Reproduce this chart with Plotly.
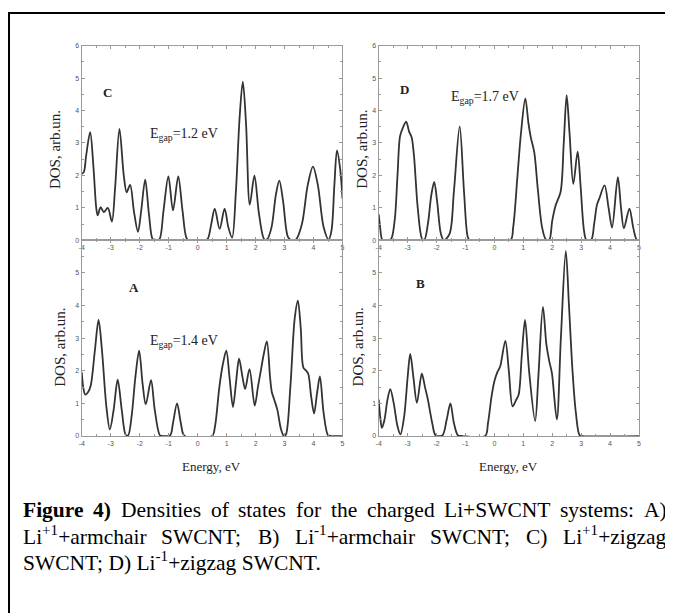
import plotly.graph_objects as go

# ---------------- data ----------------
E_C = [-4.00, -3.93, -3.85, -3.71, -3.60, -3.50, -3.45, -3.35, -3.24, -3.10, -2.96, -2.85, -2.70, -2.55, -2.45,
       -2.33, -2.20, -2.06, -1.95, -1.81, -1.68, -1.55, -1.45, -1.32, -1.18, -1.01, -0.85, -0.67, -0.52, -0.36,
       -0.20, 0.25, 0.35, 0.47, 0.59, 0.76, 0.93, 1.06, 1.19, 1.32, 1.45, 1.56, 1.67, 1.80, 1.96, 2.12, 2.30,
       2.40, 2.55, 2.70, 2.82, 2.95, 3.12, 3.25, 3.40, 3.60, 3.80, 3.98, 4.15, 4.35, 4.52, 4.62, 4.72, 4.81,
       4.92, 5.00]
DOS_C = [2.05, 2.10, 2.60, 3.33, 2.30, 1.00, 0.77, 1.02, 0.87, 1.00, 0.58, 1.60, 3.43, 2.00, 1.48,
         1.71, 0.90, 0.26, 0.90, 1.87, 0.80, 0.03, 0.00, 0.03, 0.90, 1.97, 0.92, 1.97, 0.90, 0.03,
         0.00, 0.00, 0.05, 0.50, 0.98, 0.35, 0.98, 0.40, 0.08, 1.50, 3.80, 4.89, 3.60, 1.10, 1.99, 0.80, 0.03,
         0.03, 0.40, 1.40, 1.84, 1.20, 0.10, 0.00, 0.03, 0.50, 1.70, 2.27, 1.70, 0.40, 0.02, 0.30, 1.70, 2.77,
         2.20, 1.28]

E_D = [-4.00, -3.95, -3.88, -3.75, -3.58, -3.45, -3.35, -3.26, -3.15, -3.05, -2.95, -2.86, -2.78, -2.65, -2.50,
       -2.42, -2.30, -2.18, -2.08, -1.98, -1.85, -1.75, -1.55, -1.40, -1.20, -1.05, -0.92, -0.85, 0.55, 0.65,
       0.80, 0.92, 1.07, 1.18, 1.26, 1.38, 1.50, 1.65, 1.78, 1.90, 2.00, 2.12, 2.29, 2.40, 2.50, 2.60, 2.73,
       2.88, 2.98, 3.10, 3.18, 3.35, 3.45, 3.55, 3.63, 3.81, 3.95, 4.07, 4.27, 4.38, 4.48, 4.67, 4.80, 4.92, 5.00]
DOS_D = [0.80, 0.40, 0.03, 0.00, 0.03, 0.60, 2.00, 3.22, 3.50, 3.66, 3.35, 3.17, 2.60, 1.00, 0.05,
         0.02, 0.50, 1.40, 1.80, 1.20, 0.20, 0.00, 0.20, 1.50, 3.51, 1.50, 0.10, 0.00, 0.00, 0.40,
         2.00, 3.30, 4.37, 3.60, 3.17, 2.71, 1.60, 0.40, 0.03, 0.02, 0.60, 1.08, 1.49, 3.00, 4.47, 3.30, 1.74,
         2.73, 1.70, 0.30, 0.02, 0.02, 0.50, 1.10, 1.29, 1.69, 1.00, 0.39, 1.95, 1.00, 0.37, 0.98, 0.40, 0.02, 0.00]

E_A = [-4.00, -3.95, -3.88, -3.78, -3.69, -3.55, -3.42, -3.30, -3.15, -3.03, -2.90, -2.76, -2.62, -2.48, -2.40,
       -2.28, -2.15, -2.02, -1.90, -1.79, -1.61, -1.48, -1.30, -1.20, -0.95, -0.85, -0.71, -0.58, -0.45, 0.50,
       0.60, 0.75, 0.87, 0.99, 1.10, 1.22, 1.32, 1.43, 1.55, 1.64, 1.79, 1.97, 2.08, 2.18, 2.28, 2.39, 2.50,
       2.56, 2.65, 2.75, 2.88, 2.98, 3.05, 3.20, 3.35, 3.46, 3.56, 3.65, 3.75, 3.82, 3.92, 4.02, 4.12, 4.22,
       4.35, 4.50, 4.60, 5.00]
DOS_A = [1.95, 1.50, 1.27, 1.35, 1.55, 2.60, 3.56, 2.60, 0.90, 0.20, 0.80, 1.73, 0.80, 0.03, 0.02,
         0.60, 1.80, 2.62, 1.60, 0.97, 1.71, 0.80, 0.02, 0.00, 0.02, 0.40, 1.00, 0.40, 0.00, 0.00,
         0.30, 1.50, 2.20, 2.62, 1.80, 0.89, 1.60, 2.37, 1.80, 1.44, 2.05, 0.93, 1.50, 2.00, 2.50, 2.90, 1.80,
         1.35, 1.10, 0.81, 0.20, 0.00, 0.05, 1.50, 3.60, 4.15, 3.30, 2.10, 2.00, 1.90, 1.20, 0.69, 1.30, 1.83,
         0.70, 0.03, 0.00, 0.00]

E_B = [-4.00, -3.95, -3.89, -3.80, -3.70, -3.60, -3.48, -3.35, -3.25, -3.12, -3.00, -2.91, -2.80, -2.68, -2.51,
       -2.40, -2.30, -2.15, -2.03, -1.80, -1.65, -1.52, -1.40, -1.26, -1.10, -0.32, -0.22, -0.10, 0.00, 0.10,
       0.20, 0.38, 0.50, 0.63, 0.75, 0.84, 0.95, 1.06, 1.20, 1.41, 1.52, 1.68, 1.80, 1.90, 1.99, 2.16, 2.30,
       2.47, 2.58, 2.70, 2.82, 2.95, 3.05, 5.00]
DOS_B = [1.12, 0.60, 0.25, 0.50, 1.10, 1.44, 1.00, 0.30, 0.05, 0.60, 1.80, 2.52, 1.80, 1.02, 1.91,
         1.50, 1.12, 0.40, 0.02, 0.02, 0.50, 1.00, 0.40, 0.02, 0.00, 0.00, 0.40, 1.20, 1.68, 1.95,
         2.13, 2.92, 2.00, 0.91, 1.10, 1.27, 2.50, 3.56, 2.00, 0.46, 1.80, 3.96, 2.80, 2.29, 1.93, 0.51, 3.00,
         5.67, 4.00, 2.03, 0.70, 0.02, 0.00, 0.00]

X_TICKS = [-4, -3, -2, -1, 0, 1, 2, 3, 4, 5]
PANEL_LETTERS = ["C", "D", "A", "B"]
GAP_LABELS = ["E<sub>gap</sub>=1.2 eV", "E<sub>gap</sub>=1.7 eV", "E<sub>gap</sub>=1.4 eV", None]
Y_TITLE = "DOS, arb.un."
X_TITLE = "Energy, eV"

# ---------------- layout helpers ----------------
# The page body has an 8px default margin, so the figure is drawn 8px in from
# the window's top-left; coordinates below are window pixels.
OFF = 8
WIN_W, WIN_H = 673, 613
W, H = WIN_W - OFF, WIN_H - OFF
def px(x):
    return (x - OFF) / W
def py(y):
    return 1 - (y - OFF) / H

SERIF = "Liberation Serif, Times New Roman, serif"
LINE_COLOR = "#333333"
AXIS_COLOR = "#9a9a9a"

fig = go.Figure()

panels = [
    (E_C, DOS_C, "x", "y"),
    (E_D, DOS_D, "x2", "y2"),
    (E_A, DOS_A, "x3", "y3"),
    (E_B, DOS_B, "x4", "y4"),
]
for e, d, xa, ya in panels:
    fig.add_trace(go.Scatter(x=e, y=d, xaxis=xa, yaxis=ya, mode="lines",
                             line=dict(color=LINE_COLOR, width=1.8, shape="spline", smoothing=0.9),
                             showlegend=False, hoverinfo="skip"))

left_dom = [px(79.3), px(342)]
right_dom = [px(378.5), px(640.7)]
top_dom = [py(239), py(42)]
bot_dom = [py(437), py(239)]

tickfont = dict(family="Liberation Sans, Arial, sans-serif", size=7, color="#555555")

def xaxis(domain, anchor):
    return dict(domain=domain, anchor=anchor, range=[-4, 5], tickvals=X_TICKS,
                ticktext=[str(v) for v in X_TICKS], ticks="inside", ticklen=3, tickcolor=AXIS_COLOR,
                showline=True, linecolor=AXIS_COLOR, linewidth=1.2, mirror="ticks",
                showgrid=False, zeroline=False, tickfont=tickfont,
                minor=dict(dtick=0.5, ticks="inside", ticklen=2, tickcolor=AXIS_COLOR, showgrid=False))

def yaxis(domain, anchor, maxtick):
    vals = list(range(0, maxtick + 1))
    return dict(domain=domain, anchor=anchor, range=[0, 6], tickvals=vals,
                ticktext=[str(v) for v in vals], ticks="inside", ticklen=3, tickcolor=AXIS_COLOR,
                showline=True, linecolor=AXIS_COLOR, linewidth=1.2, mirror="ticks",
                showgrid=False, zeroline=False, tickfont=tickfont,
                minor=dict(dtick=0.5, ticks="inside", ticklen=2, tickcolor=AXIS_COLOR, showgrid=False))

fig.update_layout(
    width=W, height=H, margin=dict(l=0, r=0, t=0, b=0),
    paper_bgcolor="white", plot_bgcolor="white",
    xaxis=xaxis(left_dom, "y"), yaxis=yaxis(top_dom, "x", 6),
    xaxis2=xaxis(right_dom, "y2"), yaxis2=yaxis(top_dom, "x2", 6),
    xaxis3=xaxis(left_dom, "y3"), yaxis3=yaxis(bot_dom, "x3", 5),
    xaxis4=xaxis(right_dom, "y4"), yaxis4=yaxis(bot_dom, "x4", 5),
)

ann = []
# panel letters
letter_pos = [(105, 89), (404, 86), (132, 287), (421, 283)]
for t, (x, y) in zip(PANEL_LETTERS, letter_pos):
    ann.append(dict(text="<b>" + t + "</b>", x=px(x), y=py(y), xref="paper", yref="paper",
                    showarrow=False, xanchor="center", yanchor="middle",
                    font=dict(family=SERIF, size=13, color="#222222")))
# gap labels
gap_pos = [(146, 132), (449, 94), (146, 341), None]
for t, p in zip(GAP_LABELS, gap_pos):
    if t is None:
        continue
    ann.append(dict(text=t, x=px(p[0]), y=py(p[1]), xref="paper", yref="paper",
                    showarrow=False, xanchor="left", yanchor="middle",
                    font=dict(family=SERIF, size=14, color="#222222")))
# y titles
for (x, y) in [(53, 147), (362, 147), (57, 347), (358, 347)]:
    ann.append(dict(text=Y_TITLE, x=px(x), y=py(y), xref="paper", yref="paper", textangle=-90,
                    showarrow=False, xanchor="center", yanchor="middle",
                    font=dict(family=SERIF, size=15, color="#222222")))
# x titles
for x in [210.5, 509.5]:
    ann.append(dict(text=X_TITLE, x=px(x), y=py(468), xref="paper", yref="paper",
                    showarrow=False, xanchor="center", yanchor="middle",
                    font=dict(family=SERIF, size=13, color="#222222")))

# ---------------- caption (justified lines) ----------------
TIMES = {' ': 250, '!': 333, '(': 333, ')': 333, '+': 564, ',': 250, '-': 333, '.': 250, ':': 278, ';': 278,
         '0': 500, '1': 500, '2': 500, '3': 500, '4': 500, '=': 564,
         'A': 722, 'B': 667, 'C': 667, 'D': 722, 'E': 611, 'F': 556, 'L': 611, 'N': 722, 'S': 556, 'T': 611,
         'W': 944, 'a': 444, 'b': 500, 'c': 444, 'd': 500, 'e': 444, 'f': 333, 'g': 500, 'h': 500, 'i': 278,
         'm': 778, 'n': 500, 'o': 500, 'r': 333, 's': 389, 't': 278, 'u': 500, 'y': 500, 'z': 444}
TIMES_B = {'F': 611, 'i': 278, 'g': 500, 'u': 556, 'r': 444, 'e': 444, '4': 500, ')': 333}

def seg_width(s, scale=1.0, bold=False):
    tbl = TIMES_B if bold else TIMES
    return sum(tbl.get(c, TIMES.get(c, 500)) for c in s) / 1000.0 * scale

CAP_SIZE = 21.5
X0, X1 = 19, 667

line1 = [("<b>Figure</b>", [("Figure", 1, True)]), ("<b>4)</b>", [("4)", 1, True)]),
         ("Densities", [("Densities", 1, False)]), ("of", [("of", 1, False)]),
         ("states", [("states", 1, False)]), ("for", [("for", 1, False)]), ("the", [("the", 1, False)]),
         ("charged", [("charged", 1, False)]), ("Li+SWCNT", [("Li+SWCNT", 1, False)]),
         ("systems:", [("systems:", 1, False)]), ("A)", [("A)", 1, False)])]
line2 = [("Li<sup>+1</sup>+armchair", [("Li", 1, False), ("+1", 0.7, False), ("+armchair", 1, False)]),
         ("SWCNT;", [("SWCNT;", 1, False)]), ("B)", [("B)", 1, False)]),
         ("Li<sup>-1</sup>+armchair", [("Li", 1, False), ("-1", 0.7, False), ("+armchair", 1, False)]),
         ("SWCNT;", [("SWCNT;", 1, False)]), ("C)", [("C)", 1, False)]),
         ("Li<sup>+1</sup>+zigzag", [("Li", 1, False), ("+1", 0.7, False), ("+zigzag", 1, False)])]
line3 = "SWCNT; D) Li<sup>-1</sup>+zigzag SWCNT."

def justify(words, base_y):
    widths = [sum(seg_width(s, sc, b) for s, sc, b in segs) * CAP_SIZE for _, segs in words]
    gap = (X1 - X0 - sum(widths)) / (len(words) - 1)
    x = X0
    for (html, _), wdt in zip(words, widths):
        ann.append(dict(text=html, x=px(x), y=py(base_y), xref="paper", yref="paper",
                        showarrow=False, xanchor="left", yanchor="bottom", borderpad=0,
                        font=dict(family=SERIF, size=CAP_SIZE, color="#000000")))
        x += wdt + gap

justify(line1, 525)
justify(line2, 552)
ann.append(dict(text=line3, x=px(X0), y=py(579), xref="paper", yref="paper",
                showarrow=False, xanchor="left", yanchor="bottom", borderpad=0,
                font=dict(family=SERIF, size=CAP_SIZE, color="#000000")))

fig.update_layout(annotations=ann)

# outer frame (only left and top edges visible in the picture)
fig.add_shape(type="rect", xref="paper", yref="paper", x0=px(6), y0=py(640), x1=px(700), y1=py(9),
              line=dict(color="black", width=2), fillcolor="rgba(0,0,0,0)", layer="above")

fig.write_html("out.html")
